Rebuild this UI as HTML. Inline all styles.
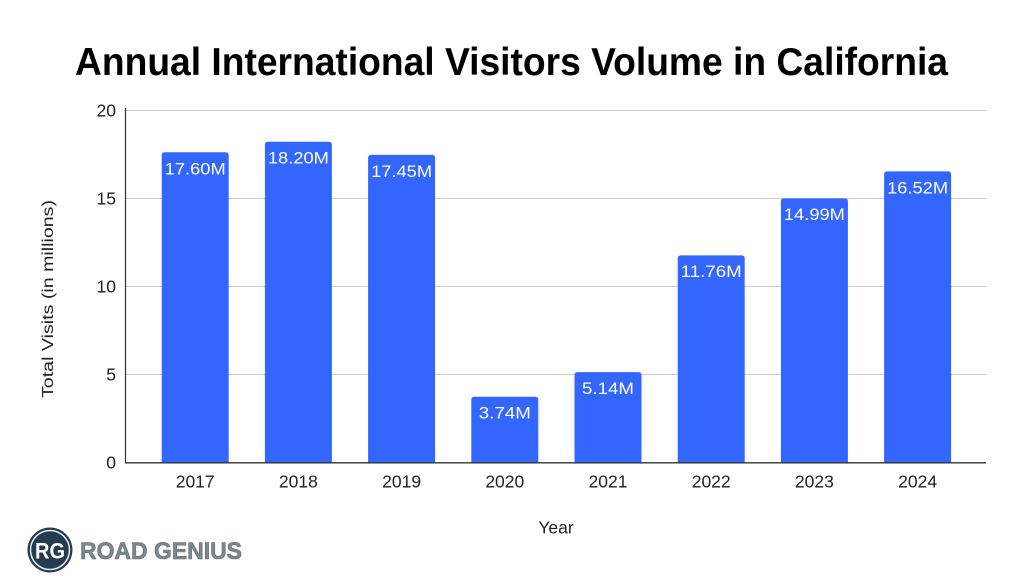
<!DOCTYPE html>
<html>
<head>
<meta charset="utf-8">
<style>
  html,body{margin:0;padding:0;background:#fff;}
  svg{display:block;}
  text{font-family:"Liberation Sans",Arial,sans-serif;}
</style>
</head>
<body>
<svg width="1024" height="582" viewBox="0 0 1024 582" xmlns="http://www.w3.org/2000/svg">
  <rect width="1024" height="582" fill="#fff"/>
  <!-- Title -->
  <text x="75" y="75" font-size="39" font-weight="bold" fill="#000" textLength="873" lengthAdjust="spacingAndGlyphs">Annual International Visitors Volume in California</text>

  <!-- Gridlines -->
  <g stroke="#cccccc" stroke-width="1">
    <line x1="125" y1="110.5" x2="986" y2="110.5"/>
    <line x1="125" y1="198.5" x2="986" y2="198.5"/>
    <line x1="125" y1="286.5" x2="986" y2="286.5"/>
    <line x1="125" y1="374.5" x2="986" y2="374.5"/>
  </g>

  <!-- Y tick labels -->
  <g font-size="17.5" fill="#222" text-anchor="end">
    <text x="116" y="116.5">20</text>
    <text x="116" y="204.5">15</text>
    <text x="116" y="292.5">10</text>
    <text x="116" y="380.5">5</text>
    <text x="116" y="468.5">0</text>
  </g>

  <!-- Bars -->
  <g fill="#3366ff">
    <path d="M161.7,462.8 V155.3 Q161.7,152.3 164.7,152.3 H225.7 Q228.7,152.3 228.7,155.3 V462.8 Z"/>
    <path d="M264.9,462.8 V144.7 Q264.9,141.7 267.9,141.7 H328.9 Q331.9,141.7 331.9,144.7 V462.8 Z"/>
    <path d="M368.1,462.8 V157.9 Q368.1,154.9 371.1,154.9 H432.1 Q435.1,154.9 435.1,157.9 V462.8 Z"/>
    <path d="M471.3,462.8 V399.8 Q471.3,396.8 474.3,396.8 H535.3 Q538.3,396.8 538.3,399.8 V462.8 Z"/>
    <path d="M574.5,462.8 V375.1 Q574.5,372.1 577.5,372.1 H638.5 Q641.5,372.1 641.5,375.1 V462.8 Z"/>
    <path d="M677.7,462.8 V258.4 Q677.7,255.4 680.7,255.4 H741.7 Q744.7,255.4 744.7,258.4 V462.8 Z"/>
    <path d="M780.9,462.8 V201.4 Q780.9,198.4 783.9,198.4 H844.9 Q847.9,198.4 847.9,201.4 V462.8 Z"/>
    <path d="M884.1,462.8 V174.4 Q884.1,171.4 887.1,171.4 H948.1 Q951.1,171.4 951.1,174.4 V462.8 Z"/>
  </g>

  <!-- Value labels -->
  <g font-size="17" fill="#fff" text-anchor="middle">
    <text x="195.2" y="174.3" textLength="61" lengthAdjust="spacingAndGlyphs">17.60M</text>
    <text x="298.4" y="163.5" textLength="61" lengthAdjust="spacingAndGlyphs">18.20M</text>
    <text x="401.6" y="176.8" textLength="61" lengthAdjust="spacingAndGlyphs">17.45M</text>
    <text x="504.8" y="418.5" textLength="52" lengthAdjust="spacingAndGlyphs">3.74M</text>
    <text x="608" y="393.9" textLength="52" lengthAdjust="spacingAndGlyphs">5.14M</text>
    <text x="711.2" y="277.2" textLength="61" lengthAdjust="spacingAndGlyphs">11.76M</text>
    <text x="814.4" y="220.2" textLength="61" lengthAdjust="spacingAndGlyphs">14.99M</text>
    <text x="917.6" y="193.3" textLength="61" lengthAdjust="spacingAndGlyphs">16.52M</text>
  </g>

  <!-- Axes -->
  <line x1="125.5" y1="108" x2="125.5" y2="463" stroke="#333" stroke-width="1.2"/>
  <line x1="125" y1="462.8" x2="986" y2="462.8" stroke="#333" stroke-width="1.3"/>

  <!-- X tick labels -->
  <g font-size="17.5" fill="#222" text-anchor="middle">
    <text x="195.2" y="487.5">2017</text>
    <text x="298.4" y="487.5">2018</text>
    <text x="401.6" y="487.5">2019</text>
    <text x="504.8" y="487.5">2020</text>
    <text x="608" y="487.5">2021</text>
    <text x="711.2" y="487.5">2022</text>
    <text x="814.4" y="487.5">2023</text>
    <text x="917.6" y="487.5">2024</text>
  </g>

  <!-- Axis titles -->
  <text x="556" y="533.5" font-size="17.5" fill="#222" text-anchor="middle">Year</text>
  <text transform="translate(53,299) rotate(-90)" font-size="16" fill="#222" text-anchor="middle" textLength="198" lengthAdjust="spacingAndGlyphs">Total Visits (in millions)</text>

  <!-- Logo -->
  <circle cx="50" cy="550" r="22.5" fill="#243b50"/>
  <circle cx="50" cy="550" r="19.5" fill="none" stroke="#e8eef2" stroke-width="1.5"/>
  <text x="50" y="558.5" font-size="22" font-weight="bold" fill="#fff" text-anchor="middle" textLength="30" lengthAdjust="spacingAndGlyphs">RG</text>
  <text x="80" y="559" font-size="24" font-weight="bold" fill="#7d8791" stroke="#5f6b76" stroke-width="0.6" textLength="162" lengthAdjust="spacingAndGlyphs">ROAD GENIUS</text>
</svg>
</body>
</html>
